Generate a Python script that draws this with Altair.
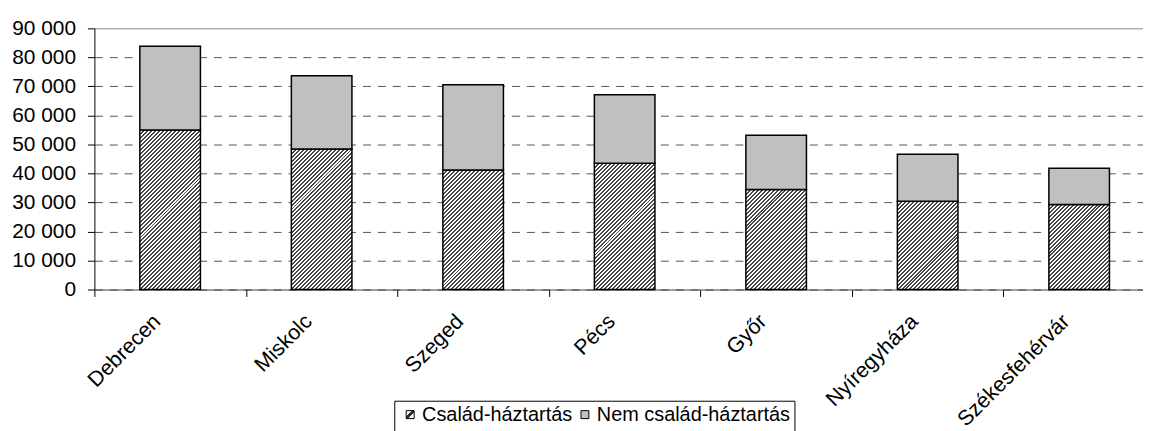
import altair as alt
import pandas as pd

cities = ["Debrecen", "Miskolc", "Szeged", "Pécs", "Győr", "Nyíregyháza", "Székesfehérvár"]
series_names = ["Család-háztartás", "Nem család-háztartás"]
csalad = [55000, 48400, 41200, 43500, 34500, 30400, 29300]
nem = [28800, 25300, 29400, 23600, 18700, 16200, 12500]
y_ticks = [0, 10000, 20000, 30000, 40000, 50000, 60000, 70000, 80000, 90000]

FONT = "Liberation Sans"
PLOT_W, PLOT_H = 1056, 263
Y_MAX = 90000
BAR_W = 61

rows = []
for i, c in enumerate(cities):
    rows.append({"city": c, "series": series_names[0], "value": csalad[i], "ord": 0})
    rows.append({"city": c, "series": series_names[1], "value": nem[i], "ord": 1})
df = pd.DataFrame(rows)


def hatch(w, h, period=4.0, frac=0.5, dark="#484848", light="#ffffff"):
    L = w + h
    a = w * L / (w * w + h * h)
    b = h * L / (w * w + h * h)
    stops = []
    k = 0
    while k * period < L:
        o0 = k * period / L
        o1 = min((k * period + frac * period) / L, 1.0)
        o2 = min((k + 1) * period / L, 1.0)
        stops += [
            {"offset": o0, "color": dark},
            {"offset": o1, "color": dark},
            {"offset": o1, "color": light},
            {"offset": o2, "color": light},
        ]
        k += 1
    return {"gradient": "linear", "x1": 0, "y1": 0, "x2": a, "y2": b, "stops": stops}


conds = []
for i, c in enumerate(cities):
    h = csalad[i] * PLOT_H / Y_MAX
    conds.append({
        "test": f"datum.series === '{series_names[0]}' && datum.city === '{c}'",
        "value": hatch(BAR_W, h),
    })
fill_def = {"condition": conds, "value": "#c0c0c0"}

x_enc = alt.X(
    "city:N",
    sort=cities,
    scale=alt.Scale(range=[0, 1068], paddingInner=0, paddingOuter=0),
    axis=alt.Axis(
        title=None, labelAngle=-45, labelAlign="right", labelBaseline="top",
        labelOffset=-21, labelPadding=14, tickSize=7, tickBand="extent",
        domainColor="#404040", tickColor="#000000", labelColor="#000000",
        labelFont=FONT, labelFontSize=21.5, grid=False,
    ),
)
y_enc = alt.Y(
    "value:Q",
    stack="zero",
    scale=alt.Scale(domain=[0, Y_MAX], nice=False),
    axis=alt.Axis(
        title=None, values=y_ticks, tickSize=7, labelPadding=12,
        labelExpr="replace(format(datum.value, ','), ',', ' ')",
        domainColor="#000000", tickColor="#000000", labelColor="#000000",
        labelFont=FONT, labelFontSize=21,
        grid=True,
        gridDash={"condition": {"test": "datum.value === 90000", "value": []}, "value": [8, 7]},
        gridColor={"condition": {"test": "datum.value === 90000", "value": "#8a8a8a"}, "value": "#555555"},
    ),
)

bars = alt.Chart(df).mark_bar(size=BAR_W, stroke="#000000", strokeWidth=1.5).encode(
    x=x_enc,
    y=y_enc,
    detail="series:N",
    order=alt.Order("ord:Q", sort="ascending"),
    fill=fill_def,
)

legend_grad = (
    "{gradient: 'linear', x1: 0, y1: 0, x2: 1, y2: 1, stops: ["
    "{offset: 0, color: '#ffffff'}, {offset: 0.38, color: '#ffffff'}, "
    "{offset: 0.38, color: '#303030'}, {offset: 0.62, color: '#303030'}, "
    "{offset: 0.62, color: '#ffffff'}, {offset: 1, color: '#ffffff'}]}"
)

legend_layer = alt.Chart(df).transform_filter("false").mark_square(opacity=1).encode(
    fill=alt.Fill(
        "series:N",
        scale=alt.Scale(domain=series_names, range=[alt.ExprRef(expr=legend_grad), "#c0c0c0"]),
        legend=alt.Legend(
            orient="none", legendX=302, legendY=375, direction="horizontal",
            title=" ", titleOrient="bottom", titleFontSize=10, titlePadding=2,
            strokeColor="#000000", fillColor="#ffffff", padding=4,
            symbolType="square", symbolSize=64, symbolOffset=2,
            symbolStrokeColor="#000000", symbolStrokeWidth=1, symbolOpacity=1,
            labelFont=FONT, labelFontSize=20, labelColor="#000000", labelOffset=2,
            labelLimit=0, columnPadding=-2, labelBaseline="middle",
        ),
    ),
)

chart = alt.layer(bars, legend_layer).properties(
    width=PLOT_W,
    height=PLOT_H,
    padding={"left": 87, "top": 19, "right": 0, "bottom": 141},
    autosize=alt.AutoSizeParams(type="none"),
    background="#ffffff",
).configure_view(stroke=None)

chart.save("out.html", embed_options={"renderer": "svg", "actions": False})
